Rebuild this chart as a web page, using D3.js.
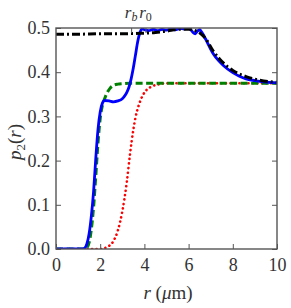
<!DOCTYPE html>
<html><head><meta charset="utf-8">
<script src="https://cdn.jsdelivr.net/npm/d3@7"></script>
<style>
body{margin:0;background:#fff;}
svg text{font-family:"Liberation Serif","Times New Roman",Times,serif !important;fill:#333;}
</style></head>
<body><svg id="c" width="291" height="308"></svg>
<script>
const xTicks = [0, 2, 4, 6, 8, 10];
const yTicks = [0.0, 0.1, 0.2, 0.3, 0.4, 0.5];
const topTicks = [3.4, 4.05];
const topLabels = ["b", "0"];

const blueX = [0, 1.2, 1.3, 1.4, 1.5, 1.6, 1.7, 1.8, 1.9, 2.0, 2.1, 2.2, 2.4, 2.6, 2.8, 3.0, 3.1, 3.2, 3.3, 3.4, 3.5, 3.6, 3.7, 3.8, 3.9, 4.0, 4.2, 4.4, 4.6, 4.8, 5.0, 5.2, 5.4, 5.6, 5.8, 6.0, 6.1, 6.2, 6.3, 6.4, 6.5, 6.6, 6.8, 7.0, 7.1, 7.4, 7.6, 8.0, 8.3, 8.6, 9.0, 9.4, 10];
const blueY = [0, 0, 0.002, 0.012, 0.035, 0.075, 0.13, 0.205, 0.27, 0.31, 0.33, 0.336, 0.335, 0.333, 0.335, 0.34, 0.346, 0.354, 0.366, 0.385, 0.41, 0.44, 0.47, 0.49, 0.498, 0.496, 0.494, 0.497, 0.494, 0.497, 0.495, 0.498, 0.496, 0.499, 0.498, 0.5, 0.496, 0.49, 0.487, 0.493, 0.496, 0.49, 0.472, 0.452, 0.443, 0.424, 0.414, 0.399, 0.391, 0.385, 0.381, 0.378, 0.376];

const greenX = [0, 1.3, 1.4, 1.5, 1.6, 1.7, 1.8, 1.9, 2.0, 2.1, 2.2, 2.3, 2.45, 2.6, 2.8, 3.0, 3.3, 10];
const greenY = [0, 0, 0.003, 0.015, 0.045, 0.095, 0.165, 0.24, 0.295, 0.325, 0.34, 0.352, 0.364, 0.37, 0.373, 0.374, 0.375, 0.375];

const redX = [0, 2.0, 2.2, 2.4, 2.6, 2.8, 3.0, 3.2, 3.35, 3.5, 3.6, 3.75, 3.9, 4.1, 4.3, 4.6, 5.0, 10];
const redY = [0, 0, 0.002, 0.007, 0.018, 0.042, 0.085, 0.15, 0.215, 0.27, 0.298, 0.326, 0.345, 0.36, 0.367, 0.372, 0.375, 0.375];

const blackX = [0, 1, 2, 3, 3.8, 4.5, 5.0, 5.6, 6.0, 6.3, 6.6, 6.8, 7.1, 7.4, 8.0, 8.6, 9.2, 10];
const blackY = [0.486, 0.486, 0.487, 0.487, 0.488, 0.49, 0.493, 0.497, 0.497, 0.494, 0.485, 0.474, 0.449, 0.43, 0.404, 0.39, 0.382, 0.377];

const L = 56, R = 277, T = 28, B = 249;
const x = d3.scaleLinear().domain([0, 10]).range([L, R]);
const y = d3.scaleLinear().domain([0, 0.5]).range([B, T]);
const svg = d3.select("#c");

svg.append("clipPath").attr("id", "clip").append("rect")
  .attr("x", L).attr("y", T).attr("width", R - L).attr("height", B - T);

const g = svg.append("g").attr("clip-path", "url(#clip)");
const line = d3.line().x(d => x(d[0])).y(d => y(d[1])).curve(d3.curveMonotoneX);
function series(xs, ys, color, w, dash, cap) {
  g.append("path").datum(xs.map((v, i) => [v, ys[i]]))
    .attr("d", line).attr("fill", "none").attr("stroke", color)
    .attr("stroke-width", w).attr("stroke-dasharray", dash)
    .attr("stroke-linecap", cap || "butt");
}
series(redX, redY, "#ff0000", 2.6, "0.1,4.4", "round");
series(greenX, greenY, "#008000", 3, "7,3.5");
series(blueX, blueY, "#0000ff", 2.8, null);
series(blackX, blackY, "#000000", 3, "8,3,2,3");

const frame = "#555";
svg.append("g").attr("transform", `translate(0,${B})`)
  .call(d3.axisBottom(x).tickValues(xTicks).tickSizeInner(-5).tickSizeOuter(0).tickPadding(9).tickFormat(d3.format("d")))
  .call(a => { a.select(".domain").remove(); a.selectAll("line").attr("stroke", frame);
    a.selectAll("text").style("font-size", "18px").attr("fill", "#333"); });
svg.append("g").attr("transform", `translate(${L},0)`)
  .call(d3.axisLeft(y).tickValues(yTicks).tickSizeInner(-5).tickSizeOuter(0).tickPadding(6).tickFormat(d3.format(".1f")))
  .call(a => { a.select(".domain").remove(); a.selectAll("line").attr("stroke", frame);
    a.selectAll("text").style("font-size", "18px").attr("fill", "#333"); });
svg.append("g").attr("transform", `translate(${R},0)`)
  .call(d3.axisRight(y).tickValues(yTicks).tickSizeInner(-5).tickSizeOuter(0).tickFormat(""))
  .call(a => { a.select(".domain").remove(); a.selectAll("line").attr("stroke", frame); });
svg.append("g").attr("transform", `translate(0,${T})`)
  .call(d3.axisTop(x).tickValues(topTicks).tickSizeInner(-5).tickSizeOuter(0).tickFormat(""))
  .call(a => { a.select(".domain").remove(); a.selectAll("line").attr("stroke", frame); });
topTicks.forEach((v, i) => {
  const t = svg.append("text").attr("x", x(v)).attr("y", 18).attr("text-anchor", "middle")
    .attr("font-size", 17).attr("font-style", "italic");
  t.append("tspan").text("r");
  t.append("tspan").attr("font-size", 12).attr("dy", 3).attr("font-style", i === 0 ? "italic" : "normal").text(topLabels[i]);
});

svg.append("rect").attr("x", L).attr("y", T).attr("width", R - L).attr("height", B - T)
  .attr("fill", "none").attr("stroke", frame).attr("stroke-width", 1.4);

const xl = svg.append("text").attr("x", 168).attr("y", 299).attr("text-anchor", "middle").attr("font-size", 19);
xl.append("tspan").attr("font-style", "italic").text("r");
xl.append("tspan").text(" (");
xl.append("tspan").attr("font-style", "italic").text("μ");
xl.append("tspan").text("m)");

const yl = svg.append("text").attr("transform", `translate(21,142) rotate(-90)`)
  .attr("text-anchor", "middle").attr("font-size", 19);
yl.append("tspan").attr("font-style", "italic").text("p");
yl.append("tspan").attr("font-size", 13).attr("dy", 4).text("2");
yl.append("tspan").attr("dy", -4).text("(");
yl.append("tspan").attr("font-style", "italic").text("r");
yl.append("tspan").text(")");
</script></body></html>
